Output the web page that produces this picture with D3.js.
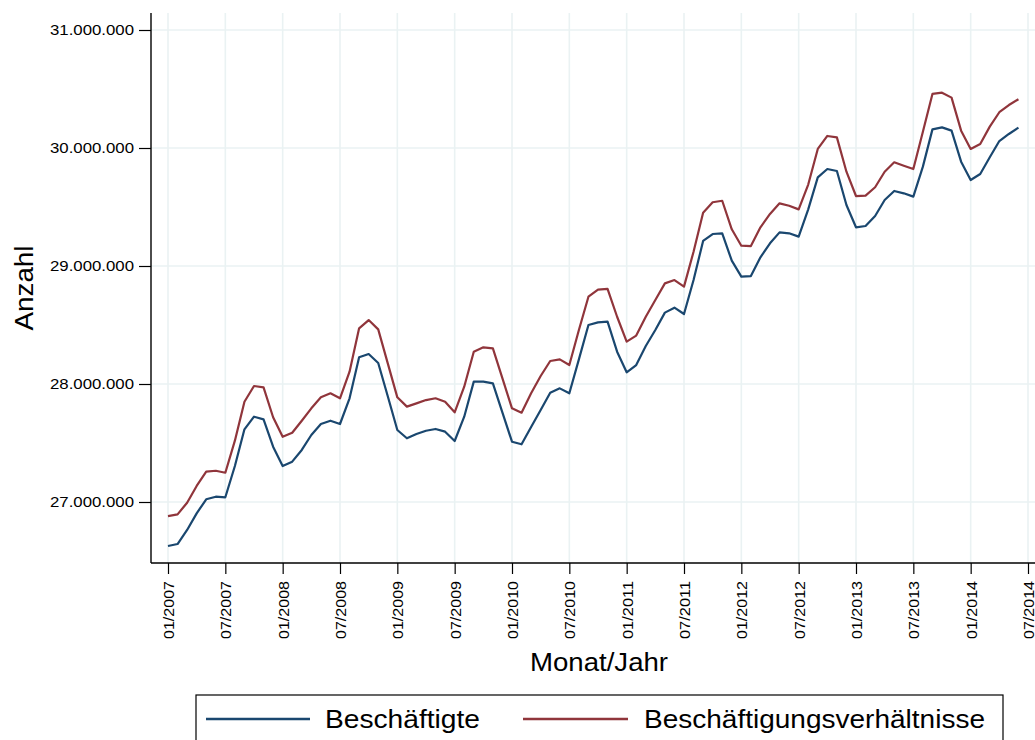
<!DOCTYPE html>
<html>
<head>
<meta charset="utf-8">
<script src="https://cdn.jsdelivr.net/npm/d3@7"></script>
<style>
  body { margin: 0; background: #fff; }
  text { font-family: "Liberation Sans", Arial, sans-serif; fill: #000; }
</style>
</head>
<body>
<div id="chart"></div>
<script>
// Data (monthly, 01/2007 - 06/2014), values in persons
const tickLabels = ["01/2007", "07/2007", "01/2008", "07/2008", "01/2009", "07/2009",
                    "01/2010", "07/2010", "01/2011", "07/2011", "01/2012", "07/2012",
                    "01/2013", "07/2013", "01/2014", "07/2014"];

const beschaeftigte = [
  26627, 26644, 26763, 26904, 27023, 27045, 27040, 27305, 27616, 27723, 27700, 27469,
  27305, 27342, 27441, 27568, 27661, 27689, 27661, 27879, 28226, 28254, 28178, 27896,
  27610, 27540, 27576, 27604, 27619, 27596, 27517, 27723, 28020, 28020, 28006, 27757,
  27511, 27489, 27636, 27780, 27926, 27963, 27921, 28209, 28500, 28522, 28528, 28274,
  28099, 28161, 28322, 28458, 28605, 28647, 28593, 28881, 29212, 29271, 29277, 29045,
  28910, 28915, 29074, 29192, 29285, 29277, 29249, 29480, 29751, 29822, 29805, 29517,
  29328, 29339, 29424, 29559, 29636, 29616, 29588, 29842, 30158, 30175, 30147, 29884,
  29729, 29780, 29921, 30059, 30119, 30172
].map(v => v * 1000);

const verhaeltnisse = [
  26881, 26895, 26994, 27136, 27257, 27265, 27248, 27520, 27850, 27983, 27972, 27718,
  27553, 27587, 27689, 27794, 27887, 27921, 27879, 28104, 28472, 28542, 28463, 28175,
  27887, 27808, 27836, 27864, 27879, 27850, 27760, 27977, 28274, 28311, 28302, 28048,
  27794, 27757, 27921, 28068, 28195, 28209, 28161, 28458, 28740, 28800, 28806, 28570,
  28359, 28410, 28570, 28712, 28853, 28881, 28825, 29121, 29452, 29540, 29553, 29311,
  29172, 29169, 29328, 29441, 29531, 29511, 29480, 29690, 29992, 30102, 30090, 29799,
  29593, 29596, 29667, 29799, 29879, 29850, 29822, 30138, 30458, 30469, 30427, 30147,
  29992, 30034, 30181, 30303, 30364, 30413
].map(v => v * 1000);

const yTicks = [27000000, 28000000, 29000000, 30000000, 31000000];

// Constants
const FRAME_WIDTH = 1035;
const FRAME_HEIGHT = 740;
const PLOT = {left: 151, right: 1035, top: 13, bottom: 563};
const BLUE = "#1a476f";
const RED = "#90353b";
const GRID = "#eaf2f3";

const FRAME = d3.select("#chart")
                .append("svg")
                  .attr("width", FRAME_WIDTH)
                  .attr("height", FRAME_HEIGHT);

// Scales: month index -> x, value -> y
const X_SCALE = d3.scaleLinear()
                  .domain([0, 90])
                  .range([168, 1028]);

const Y_SCALE = d3.scaleLinear()
                  .domain([27000000, 31000000])
                  .range([502, 30]);

const fmt = d3.formatLocale({decimal: ",", thousands: ".", grouping: [3], currency: ["", "€"]}).format(",.0f");

// Grid
FRAME.append("g")
  .selectAll("line")
  .data(yTicks)
  .enter()
  .append("line")
    .attr("x1", PLOT.left)
    .attr("x2", PLOT.right)
    .attr("y1", d => Y_SCALE(d))
    .attr("y2", d => Y_SCALE(d))
    .attr("stroke", GRID)
    .attr("stroke-width", 1.6);

FRAME.append("g")
  .selectAll("line")
  .data(tickLabels)
  .enter()
  .append("line")
    .attr("x1", (d, i) => X_SCALE(i * 6))
    .attr("x2", (d, i) => X_SCALE(i * 6))
    .attr("y1", PLOT.top)
    .attr("y2", PLOT.bottom)
    .attr("stroke", GRID)
    .attr("stroke-width", 1.6);

// Y axis
const yAxis = FRAME.append("g")
  .attr("transform", "translate(" + PLOT.left + ",0)")
  .call(d3.axisLeft(Y_SCALE).tickValues(yTicks).tickFormat(fmt).tickSize(12).tickPadding(5).tickSizeOuter(0));
yAxis.select(".domain").remove();
yAxis.selectAll("line").attr("stroke", "#000").attr("stroke-width", 1.2);
yAxis.selectAll("text")
  .attr("font-size", "15.5px")
  .attr("font-family", "Liberation Sans, Arial, sans-serif")
  .attr("fill", "#000")
  .attr("textLength", 84)
  .attr("lengthAdjust", "spacingAndGlyphs");
FRAME.append("line")
  .attr("x1", PLOT.left).attr("x2", PLOT.left)
  .attr("y1", PLOT.top).attr("y2", PLOT.bottom)
  .attr("stroke", "#000").attr("stroke-width", 1.4);

// X axis
const xAxis = FRAME.append("g")
  .attr("transform", "translate(0," + PLOT.bottom + ")")
  .call(d3.axisBottom(X_SCALE)
          .tickValues(tickLabels.map((d, i) => i * 6))
          .tickFormat((d) => tickLabels[d / 6])
          .tickSize(11).tickSizeOuter(0));
xAxis.select(".domain").remove();
xAxis.selectAll("line").attr("stroke", "#000").attr("stroke-width", 1.2);
xAxis.selectAll("text")
  .attr("font-size", "15.5px")
  .attr("font-family", "Liberation Sans, Arial, sans-serif")
  .attr("fill", "#000")
  .attr("transform", "rotate(-90)")
  .attr("text-anchor", "end")
  .attr("x", -18)
  .attr("y", 0)
  .attr("dy", "0.35em")
  .attr("textLength", 58)
  .attr("lengthAdjust", "spacingAndGlyphs");
FRAME.append("line")
  .attr("x1", PLOT.left).attr("x2", PLOT.right)
  .attr("y1", PLOT.bottom).attr("y2", PLOT.bottom)
  .attr("stroke", "#000").attr("stroke-width", 1.4);

// Axis titles
FRAME.append("text")
  .attr("transform", "translate(33,288) rotate(-90)")
  .attr("text-anchor", "middle")
  .attr("font-size", "25px")
  .attr("textLength", 85)
  .attr("lengthAdjust", "spacingAndGlyphs")
  .text("Anzahl");

FRAME.append("text")
  .attr("x", 599)
  .attr("y", 671)
  .attr("text-anchor", "middle")
  .attr("font-size", "25px")
  .attr("textLength", 138)
  .attr("lengthAdjust", "spacingAndGlyphs")
  .text("Monat/Jahr");

// Lines
const line = d3.line()
  .x((d, i) => X_SCALE(i))
  .y((d) => Y_SCALE(d));

FRAME.append("path")
  .datum(verhaeltnisse)
  .attr("d", line)
  .attr("fill", "none")
  .attr("stroke", RED)
  .attr("stroke-width", 2.2)
  .attr("stroke-linejoin", "round");

FRAME.append("path")
  .datum(beschaeftigte)
  .attr("d", line)
  .attr("fill", "none")
  .attr("stroke", BLUE)
  .attr("stroke-width", 2.2)
  .attr("stroke-linejoin", "round");

// Legend
const LEGEND = FRAME.append("g");
LEGEND.append("rect")
  .attr("x", 196).attr("y", 695)
  .attr("width", 807).attr("height", 60)
  .attr("fill", "#fff")
  .attr("stroke", "#000")
  .attr("stroke-width", 1.2);

const legendItems = [
  {label: "Beschäftigte", color: BLUE, x1: 206, x2: 310, tx: 325, len: 155},
  {label: "Beschäftigungsverhältnisse", color: RED, x1: 523, x2: 628, tx: 644, len: 341}
];

legendItems.forEach((d) => {
  LEGEND.append("line")
    .attr("x1", d.x1).attr("x2", d.x2)
    .attr("y1", 719).attr("y2", 719)
    .attr("stroke", d.color)
    .attr("stroke-width", 2.4);
  LEGEND.append("text")
    .attr("x", d.tx)
    .attr("y", 728)
    .attr("font-size", "25px")
    .attr("textLength", d.len)
    .attr("lengthAdjust", "spacingAndGlyphs")
    .text(d.label);
});
</script>
</body>
</html>
